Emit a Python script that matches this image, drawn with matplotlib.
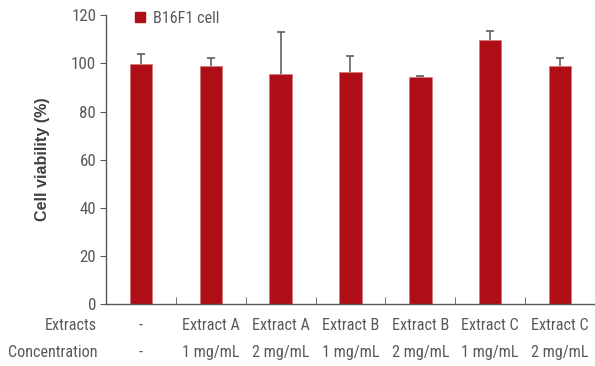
import numpy as np
import matplotlib.pyplot as plt
from matplotlib import font_manager
from matplotlib.patches import Patch

extracts = ['-', 'Extract A', 'Extract A', 'Extract B', 'Extract B', 'Extract C', 'Extract C']
concentrations = ['-', '1 mg/mL', '2 mg/mL', '1 mg/mL', '2 mg/mL', '1 mg/mL', '2 mg/mL']
viability = [99.8, 98.9, 95.6, 96.3, 94.3, 109.6, 98.8]
viability_err = [4.0, 3.3, 17.6, 6.9, 0.3, 4.0, 3.3]

BAR_COLOR = '#b00e16'
GREY = '#595959'

# pick a condensed face if one exists, otherwise an Arial-like one
installed = {f.name for f in font_manager.fontManager.ttflist}
narrow_candidates = ['Liberation Sans Narrow', 'Roboto Condensed', 'Open Sans Condensed',
                     'DejaVu Sans Condensed']
narrow = [n for n in narrow_candidates if n in installed]
if narrow:
    NARROW = [narrow[0], 'DejaVu Sans']
    NSIZE = 11.6
else:
    NARROW = ['Liberation Sans', 'DejaVu Sans']
    NSIZE = 10

fig = plt.figure(figsize=(5.95, 3.66), dpi=100)
ax = fig.add_axes([0.178, 0.1694, 0.822, 0.7888])

x = np.arange(len(viability))
ax.bar(x, viability, width=0.32, color=BAR_COLOR, edgecolor='#d9777c', linewidth=0.6,
       zorder=2)
_, caps, _ = ax.errorbar(x, viability, yerr=[np.zeros(len(viability)), viability_err],
                         fmt='none', ecolor='#606060', elinewidth=1.2, capsize=3,
                         capthick=1.2, zorder=3)
caps[0].set_visible(False)

ax.set_xlim(-0.5, len(viability) - 0.5)
ax.set_ylim(0, 120)
ax.set_yticks(np.arange(0, 121, 20))
ax.set_yticklabels([str(v) for v in range(0, 121, 20)], fontfamily=NARROW,
                   fontsize=NSIZE + 0.6, color=GREY)
ax.tick_params(axis='y', direction='out', length=4, color=GREY, pad=3)

# category boundaries as minor ticks on the x axis, pointing inward
ax.set_xticks([])
ax.set_xticks(np.arange(0.5, len(viability) - 0.5, 1), minor=True)
ax.tick_params(axis='x', which='minor', direction='in', length=5, color=GREY)

for side in ['top', 'right']:
    ax.spines[side].set_visible(False)
for side in ['left', 'bottom']:
    ax.spines[side].set_color(GREY)
    ax.spines[side].set_linewidth(1.0)

ax.set_ylabel('Cell viability (%)', fontfamily=['Liberation Sans', 'DejaVu Sans'],
              fontweight='bold', fontsize=11.6, color='#404040', labelpad=15)

# table rows under the axis
for row, (name, labels) in enumerate([('Extracts', extracts),
                                      ('Concentration', concentrations)]):
    yrow = -0.075 - row * 0.094
    ax.text(-0.018, yrow, name, transform=ax.transAxes, ha='right', va='center',
            fontfamily=NARROW, fontsize=NSIZE, color=GREY)
    for i, lab in enumerate(labels):
        ax.text(i, yrow, lab, transform=ax.get_xaxis_transform(), ha='center',
                va='center', fontfamily=NARROW, fontsize=NSIZE, color=GREY)

ax.legend(handles=[Patch(color=BAR_COLOR, label='B16F1 cell')], loc='upper left',
          bbox_to_anchor=(0.03, 1.065), frameon=False, handlelength=0.6,
          handleheight=0.6, handletextpad=0.5,
          prop={'family': NARROW, 'size': NSIZE}, labelcolor=GREY)

fig.savefig('out.png', dpi=100)
